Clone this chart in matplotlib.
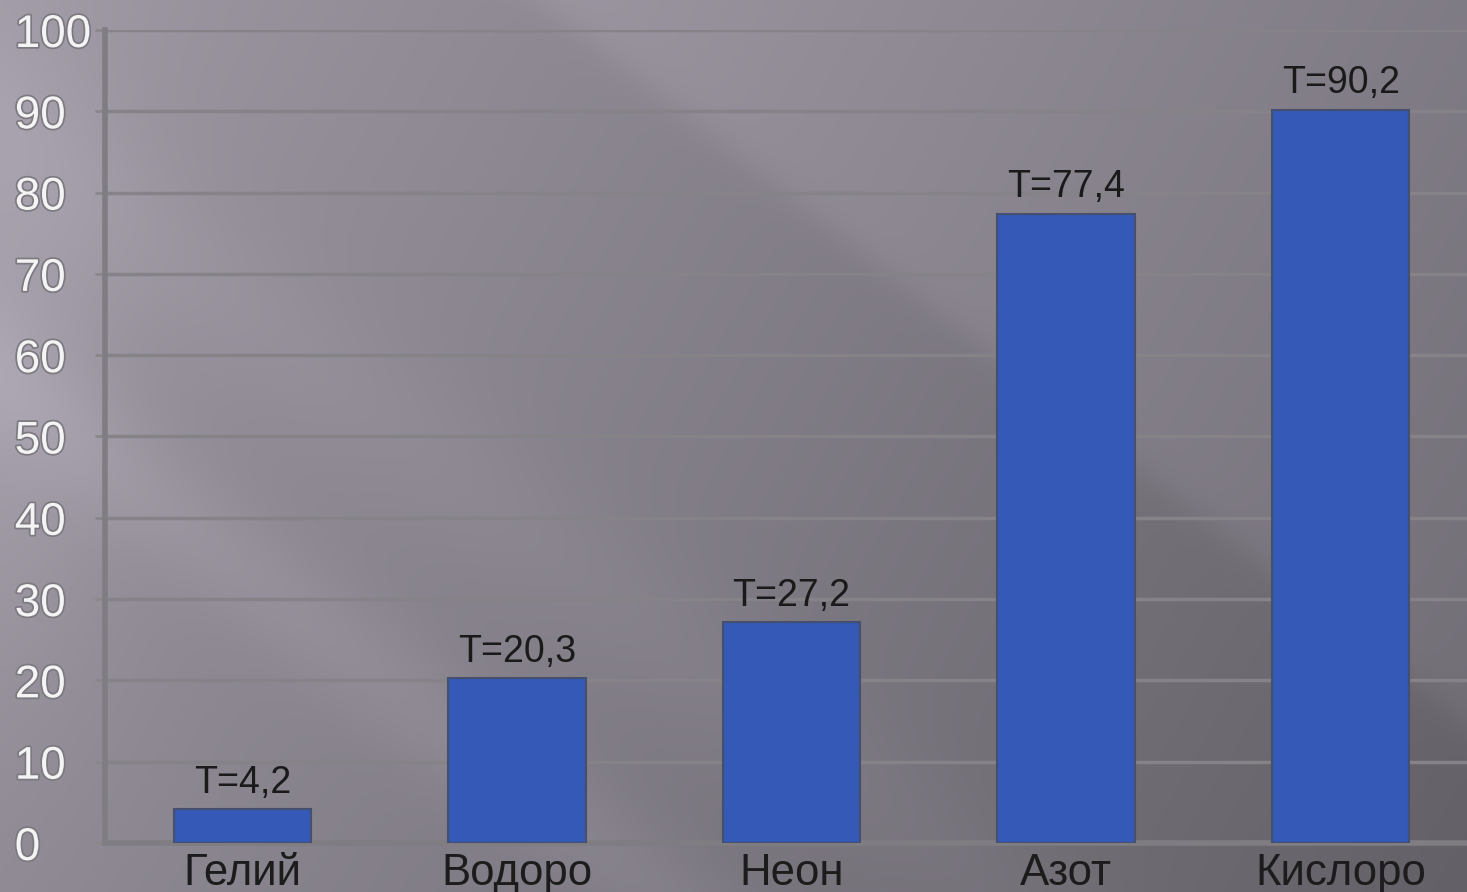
import matplotlib.pyplot as plt
import matplotlib.patheffects as pe
import numpy as np

# data
gases = ["Гелий", "Водоро", "Неон", "Азот", "Кислоро"]
temps = [4.2, 20.3, 27.2, 77.4, 90.2]
value_labels = ["T=4,2", "T=20,3", "T=27,2", "T=77,4", "T=90,2"]
y_ticks = [0, 10, 20, 30, 40, 50, 60, 70, 80, 90, 100]

W, H = 1467, 892
plt.rcParams['font.family'] = ['Liberation Sans', 'DejaVu Sans']


def make_background():
  # grey gradient with soft diagonal streaks (upper-left -> lower-right)
  yy, xx = np.mgrid[0:H, 0:W].astype(float)
  v = 0.62 - 0.17 * (xx / W) - 0.06 * (yy / H)
  u = yy - 0.78 * xx
  # bright wedge with a sharp upper edge
  edge = 1.0 / (1.0 + np.exp((-u - 420) / 12.0))
  v += 0.05 * (1 - edge) * np.exp(-np.clip(u + 420, 0, None) / 650.0)
  # soft streaks lower-left
  v += 0.035 * np.exp(-((u - 380) / 70.0) ** 2)
  v += 0.02 * np.exp(-((u - 120) / 90.0) ** 2)
  # lavender glow on far left
  v += 0.05 * np.exp(-(xx / 120.0) ** 2) * np.exp(-((yy - 350) / 320.0) ** 2)
  img = np.stack([v * 1.0, v * 0.965, v * 1.035], axis=-1)
  return np.clip(img, 0, 1)


def main():
  fig = plt.figure(figsize=(W / 100, H / 100), dpi=100)

  bg = fig.add_axes([0, 0, 1, 1], zorder=0)
  bg.imshow(make_background(), aspect='auto', extent=(0, 1, 0, 1))
  bg.axis('off')

  ax = fig.add_axes([105 / W, 49 / H, 1 - 105 / W, (843 - 30) / H], zorder=1)
  ax.set_facecolor('none')

  x = np.arange(len(gases))
  ax.bar(x, temps, width=0.5, color='#3459b6', edgecolor='#45506e',
         linewidth=1.5, zorder=3)

  for xi, t, lab in zip(x, temps, value_labels):
    ax.annotate(lab, (xi, t), xytext=(0, 6), textcoords='offset points',
                ha='center', va='bottom', fontsize=27, color='#1a1a1a', zorder=4)

  ax.set_xlim(-0.5, 4.46)
  ax.set_ylim(0, 100)
  ax.set_yticks(y_ticks)
  ax.set_yticklabels([str(t) for t in y_ticks], fontsize=33, color='#f4f4f4',
                     path_effects=[pe.withStroke(linewidth=2.5, foreground='#7c7980')])
  for tl in ax.get_yticklabels():
    tl.set_horizontalalignment('left')
  ax.tick_params(axis='y', length=7, width=2, color='#8a878c', pad=58)

  ax.set_xticks(x)
  ax.set_xticklabels(gases, fontsize=31.5, color='#1c1c1c')
  ax.tick_params(axis='x', length=0, pad=7)

  ax.yaxis.grid(True, color='#858288', linewidth=2.5, zorder=1)
  ax.set_axisbelow(True)

  for side in ['top', 'right']:
    ax.spines[side].set_visible(False)
  ax.spines['left'].set_color('#7f7c82')
  ax.spines['left'].set_linewidth(4)
  ax.spines['bottom'].set_color('#7f7c82')
  ax.spines['bottom'].set_linewidth(4)
  ax.spines['left'].set_zorder(2)

  fig.savefig('out.png', dpi=100)


if __name__ == '__main__':
  main()
